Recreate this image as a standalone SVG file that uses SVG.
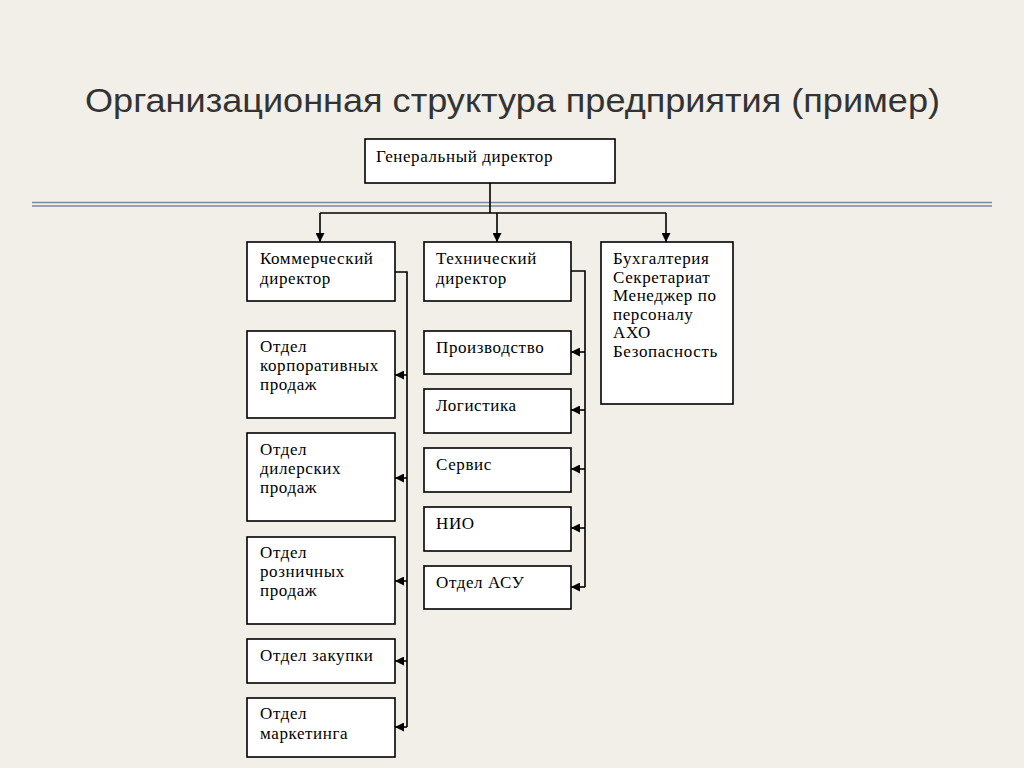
<svg xmlns="http://www.w3.org/2000/svg" width="1024" height="768" viewBox="0 0 1024 768">
<defs>
<style>
.bg{fill:#f2efe9}
.box{fill:#ffffff;stroke:#000;stroke-width:1.6}
.t{font-family:"Liberation Serif","DejaVu Serif",serif;font-size:17px;letter-spacing:0.6px;fill:#000}
.title{font-family:"Liberation Sans","Arial",sans-serif;font-size:33px;fill:#333}
.ln{fill:none;stroke:#000;stroke-width:1.6}
.dl{stroke:#7b8aa0;stroke-width:1.5}
</style>
<marker id="ah" viewBox="0 0 10 10" refX="10" refY="5" markerWidth="9" markerHeight="9" markerUnits="userSpaceOnUse" orient="auto">
<path d="M0,0 L10,5 L0,10 z" fill="#000"/>
</marker>
</defs>
<rect class="bg" x="0" y="0" width="1024" height="768"/>
<text class="title" x="85" y="112" textLength="855" lengthAdjust="spacingAndGlyphs">Организационная структура предприятия (пример)</text>
<line class="dl" x1="32" y1="202.5" x2="992" y2="202.5"/>
<line class="dl" x1="32" y1="206" x2="992" y2="206"/>

<g id="connectors">
<path class="ln" d="M490,183 V213"/>
<path class="ln" d="M320,213 H666"/>
<path class="ln" d="M320,213 V242" marker-end="url(#ah)"/>
<path class="ln" d="M497,213 V242" marker-end="url(#ah)"/>
<path class="ln" d="M666,213 V242" marker-end="url(#ah)"/>
<path class="ln" d="M395,272 H407 V727"/>
<path class="ln" d="M407,375 H395" marker-end="url(#ah)"/>
<path class="ln" d="M407,478 H395" marker-end="url(#ah)"/>
<path class="ln" d="M407,581 H395" marker-end="url(#ah)"/>
<path class="ln" d="M407,661 H395" marker-end="url(#ah)"/>
<path class="ln" d="M407,727 H395" marker-end="url(#ah)"/>
<path class="ln" d="M571,271 H585 V587"/>
<path class="ln" d="M585,352 H571" marker-end="url(#ah)"/>
<path class="ln" d="M585,410 H571" marker-end="url(#ah)"/>
<path class="ln" d="M585,469 H571" marker-end="url(#ah)"/>
<path class="ln" d="M585,528 H571" marker-end="url(#ah)"/>
<path class="ln" d="M585,587 H571" marker-end="url(#ah)"/>
</g>

<g id="gd"><rect class="box" x="365" y="139" width="250" height="44"/><text class="t" x="376" y="162">Генеральный директор</text></g>

<g id="kd"><rect class="box" x="247" y="242" width="148" height="59"/><text class="t" x="260" y="264">Коммерческий</text><text class="t" x="260" y="284">директор</text></g>
<g id="okp"><rect class="box" x="247" y="331" width="148" height="87"/><text class="t" x="260" y="352">Отдел</text><text class="t" x="260" y="371">корпоративных</text><text class="t" x="260" y="390">продаж</text></g>
<g id="odp"><rect class="box" x="247" y="433" width="148" height="88"/><text class="t" x="260" y="455">Отдел</text><text class="t" x="260" y="474">дилерских</text><text class="t" x="260" y="493">продаж</text></g>
<g id="orp"><rect class="box" x="247" y="537" width="148" height="87"/><text class="t" x="260" y="558">Отдел</text><text class="t" x="260" y="577">розничных</text><text class="t" x="260" y="596">продаж</text></g>
<g id="oz"><rect class="box" x="247" y="639" width="148" height="44"/><text class="t" x="260" y="661">Отдел закупки</text></g>
<g id="om"><rect class="box" x="247" y="698" width="148" height="59"/><text class="t" x="260" y="719">Отдел</text><text class="t" x="260" y="739">маркетинга</text></g>

<g id="td"><rect class="box" x="424" y="242" width="147" height="59"/><text class="t" x="436" y="264">Технический</text><text class="t" x="436" y="284">директор</text></g>
<g id="pr"><rect class="box" x="424" y="331" width="147" height="43"/><text class="t" x="436" y="353">Производство</text></g>
<g id="lg"><rect class="box" x="424" y="389" width="147" height="44"/><text class="t" x="436" y="411">Логистика</text></g>
<g id="sv"><rect class="box" x="424" y="448" width="147" height="44"/><text class="t" x="436" y="470">Сервис</text></g>
<g id="nio"><rect class="box" x="424" y="507" width="147" height="44"/><text class="t" x="436" y="529">НИО</text></g>
<g id="asu"><rect class="box" x="424" y="566" width="147" height="43"/><text class="t" x="436" y="588">Отдел АСУ</text></g>

<g id="other"><rect class="box" x="601" y="242" width="132" height="162"/>
<text class="t" x="613" y="264">Бухгалтерия</text>
<text class="t" x="613" y="282.5">Секретариат</text>
<text class="t" x="613" y="301">Менеджер по</text>
<text class="t" x="613" y="319.5">персоналу</text>
<text class="t" x="613" y="338">АХО</text>
<text class="t" x="613" y="356.5">Безопасность</text>
</g>
</svg>
